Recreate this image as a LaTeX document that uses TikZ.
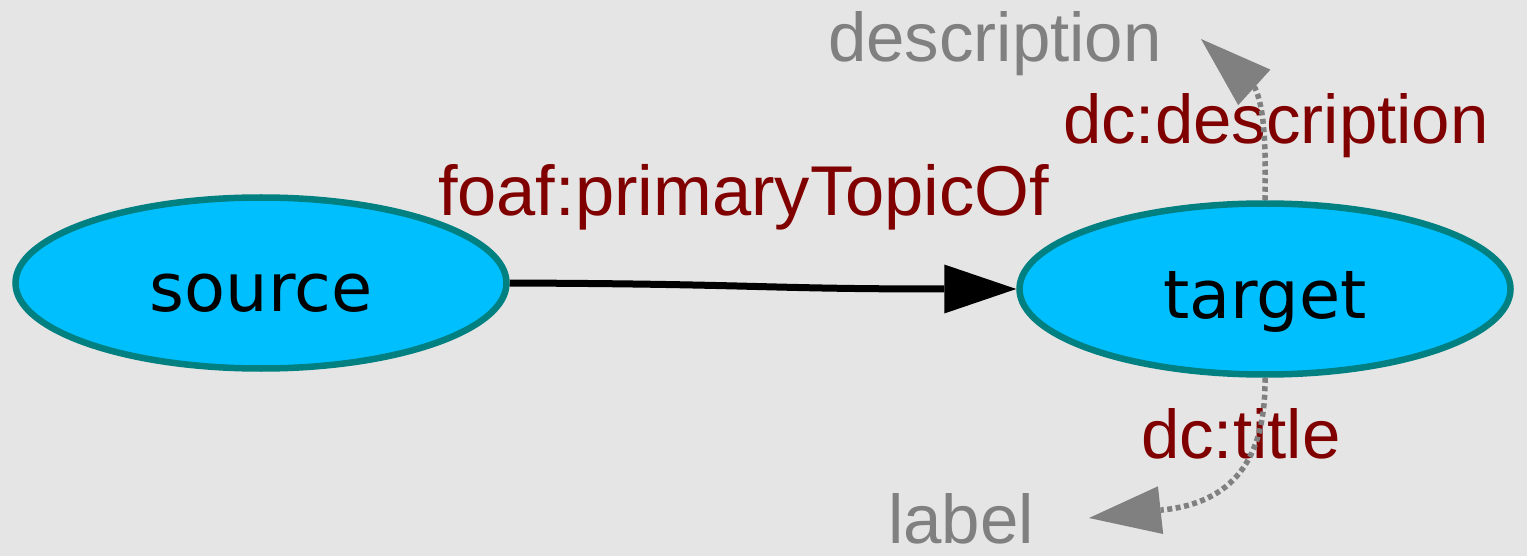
\documentclass[tikz,border=0pt]{standalone}
\usepackage{fontspec}
\usetikzlibrary{arrows.meta,shapes.geometric}
\newfontfamily\labfont{Liberation Sans}
\newfontfamily\nodfont{DejaVu Sans}
\definecolor{bgc}{HTML}{E5E5E5}
\definecolor{nodefill}{HTML}{00BFFF}
\definecolor{nodeline}{HTML}{008080}
\definecolor{labred}{HTML}{800000}
\definecolor{edgegray}{HTML}{808080}
\tikzset{
  res/.style={ellipse, draw=nodeline, fill=nodefill, line width=6.5pt,
    minimum width=491pt, minimum height=171pt, inner sep=0pt,
    text height=58pt, text depth=0pt,
    font=\nodfont\fontsize{67}{78}\selectfont},
  edgelab/.style={anchor=base west, inner sep=0pt, outer sep=0pt, text=labred,
    font=\labfont\fontsize{69}{80}\selectfont},
  litlab/.style={anchor=base west, inner sep=0pt, outer sep=0pt, text=edgegray,
    font=\labfont\fontsize{69}{80}\selectfont},
  mainedge/.style={draw=black, line width=7pt,
    -{Triangle[length=72pt,width=49pt,line width=0pt]}},
  grayedge/.style={draw=edgegray, line width=5.5pt, dash pattern=on 5pt off 3.5pt,
    -{Triangle[length=72pt,width=48pt,line width=0pt]}}
}
\begin{document}
\begin{tikzpicture}[x=1pt,y=-1pt]
\fill[bgc] (0,0) rectangle (1527,556);
\useasboundingbox (0,0) rectangle (1527,556);
\node[res] (src) at (261,283) {source};
\node[res] (tgt) at (1265,289) {target};
\node[litlab] (desc) at (828,62) {description};
\node[litlab] (lbl) at (888,543) {label};
\node[edgelab, font=\labfont\fontsize{70.5}{80}\selectfont] (ptopic) at (438,216) {foaf:primaryTopicOf};
\node[edgelab] (dcdesc) at (1063,144) {dc:description};
\node[edgelab] (dctitle) at (1141,458) {dc:title};
\coordinate (dtip) at (1201,39);
\coordinate (ltip) at (1089,518);
\draw[mainedge] (src.east) .. controls (760,284) and (760,289) .. (tgt.west);
\draw[grayedge] (tgt.north) .. controls (1266,140) and (1264,108) .. (1255,88) -- (dtip);
\draw[grayedge] (tgt.south) .. controls (1266,460) and (1232,503) .. (1162,510) -- (ltip);
\end{tikzpicture}
\end{document}
